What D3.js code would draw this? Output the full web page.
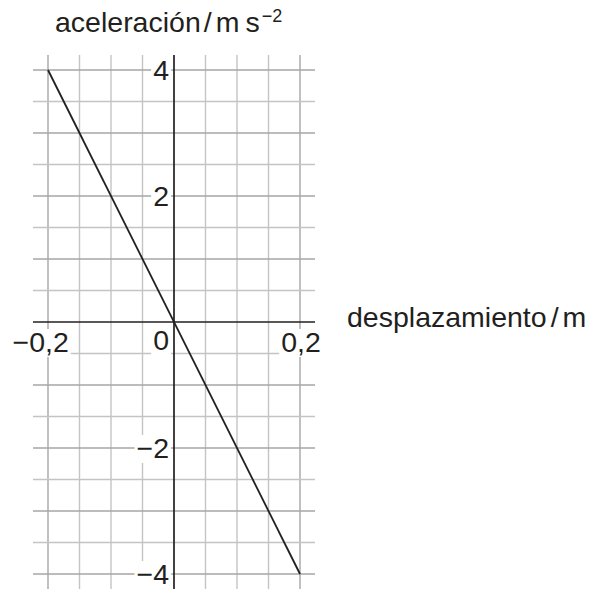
<!DOCTYPE html>
<html>
<head>
<meta charset="utf-8">
<script src="https://cdn.jsdelivr.net/npm/d3@7"></script>
<style>
  html, body { margin: 0; padding: 0; background: #fff; }
  svg { display: block; }
  text { font-family: "Liberation Sans", Arial, Helvetica, sans-serif; fill: #231f20; }
</style>
</head>
<body>
<svg id="chart" width="595" height="590"></svg>
<script>
// ---- data ----
const displacement = [-0.2, 0.2];          // m
const acceleration = [4, -4];              // m s^-2
const xTickValues = [-0.2, 0.2];
const xTickLabels = ["\u22120,2", "0,2"];
const yTickValues = [4, 2, -2, -4];
const yTickLabels = ["4", "2", "\u22122", "\u22124"];
const originLabel = "0";
const xGridValues = [-0.2, -0.15, -0.1, -0.05, 0.05, 0.1, 0.15, 0.2];
const yGridValues = [-4, -3.5, -3, -2.5, -2, -1.5, -1, -0.5, 0.5, 1, 1.5, 2, 2.5, 3, 3.5, 4];
const yTitle = ["aceleración", "/", "m", "s", "\u22122"];
const xTitle = ["desplazamiento", "/", "m"];

// ---- layout ----
const svg = d3.select("#chart");
const x = d3.scaleLinear().domain([-0.2, 0.2]).range([48, 300]);
const y = d3.scaleLinear().domain([-4, 4]).range([574, 70]);
const pad = 15;
const gx0 = x.range()[0] - pad, gx1 = x.range()[1] + pad;
const gy0 = y.range()[1] - pad, gy1 = y.range()[0] + pad;
const fs = 28.5;

const gridLight = "#c4c4c4", gridDark = "#a6a6a6", ink = "#231f20";

const grid = svg.append("g");
grid.selectAll("line.v").data(xGridValues).join("line")
  .attr("x1", d => x(d)).attr("x2", d => x(d))
  .attr("y1", gy0).attr("y2", gy1)
  .attr("stroke", d => Math.abs(Math.abs(d) - 0.2) < 1e-9 ? gridDark : gridLight)
  .attr("stroke-width", 1.4);
grid.selectAll("line.h").data(yGridValues).join("line")
  .attr("x1", gx0).attr("x2", gx1)
  .attr("y1", d => y(d)).attr("y2", d => y(d))
  .attr("stroke", d => Number.isInteger(d) ? gridDark : gridLight)
  .attr("stroke-width", 1.4);

// axes
svg.append("line").attr("x1", gx0).attr("x2", gx1).attr("y1", y(0)).attr("y2", y(0))
  .attr("stroke", ink).attr("stroke-width", 1.7);
svg.append("line").attr("x1", x(0)).attr("x2", x(0)).attr("y1", gy0).attr("y2", gy1)
  .attr("stroke", ink).attr("stroke-width", 1.7);

// label layer with white backgrounds
const labels = svg.append("g");
function addLabel(str, tx, ty, anchor) {
  const g = labels.append("g");
  const r = g.append("rect").attr("fill", "#fff");
  const t = g.append("text").attr("x", tx).attr("y", ty).attr("text-anchor", anchor)
    .attr("font-size", fs).text(str);
  const b = t.node().getBBox();
  r.attr("x", b.x - 2).attr("y", b.y + 3).attr("width", b.width + 4).attr("height", b.height - 4);
  return t;
}

// y tick labels
yTickValues.forEach((v, i) => addLabel(yTickLabels[i], x(0) - 5, y(v) + 10, "end"));

// x tick labels: center the unsigned part on the tick
const tmp = svg.append("text").attr("font-size", fs).text("0,2");
const w02 = tmp.node().getComputedTextLength();
tmp.remove();
xTickValues.forEach((v, i) => addLabel(xTickLabels[i], x(v) + w02 / 2 + 1, y(0) + 30, "end"));
addLabel(originLabel, x(0) - 5, y(0) + 28, "end");

// data line
const line = d3.line().x(d => x(d[0])).y(d => y(d[1]));
svg.append("path").datum(d3.zip(displacement, acceleration))
  .attr("d", line).attr("fill", "none").attr("stroke", ink).attr("stroke-width", 1.8);

// axis titles
const yt = svg.append("text").attr("x", 55).attr("y", 31.5).attr("font-size", fs);
yt.append("tspan").text(yTitle[0]);
yt.append("tspan").attr("dx", 3).text(yTitle[1]);
yt.append("tspan").attr("dx", 4).text(yTitle[2]);
yt.append("tspan").attr("dx", 6).text(yTitle[3]);
yt.append("tspan").attr("dx", 2).attr("dy", -10).attr("font-size", 18).text(yTitle[4]);

const xt = svg.append("text").attr("x", 347).attr("y", 326.5).attr("font-size", fs);
xt.append("tspan").text(xTitle[0]);
xt.append("tspan").attr("dx", 4).text(xTitle[1]);
xt.append("tspan").attr("dx", 4).text(xTitle[2]);
</script>
</body>
</html>
